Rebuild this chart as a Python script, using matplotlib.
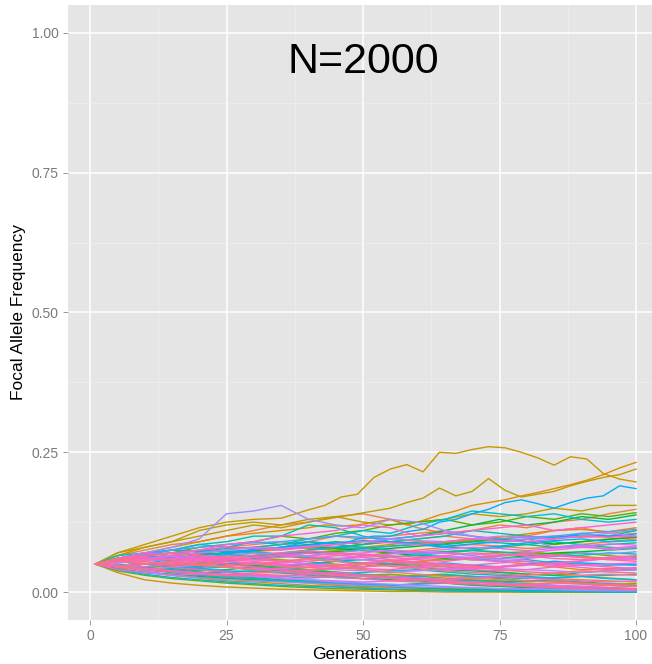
#!/usr/bin/env python3
import math

import matplotlib
matplotlib.use('Agg')
import matplotlib.pyplot as plt
import numpy as np

GENERATIONS = [1, 5, 10, 15, 20, 25, 30, 35, 40, 45, 50, 55, 60, 65, 70, 75, 80, 85, 90, 95, 100]
# the few replicates that drift far up were read more closely
FINE_GENERATIONS = [1, 5, 10, 15, 20, 25, 30, 35, 40, 43, 46, 49, 52, 55, 58, 61, 64, 67, 70,
	73, 76, 79, 82, 85, 88, 91, 94, 97, 100]
NUM_REPLICATES = 100  # colour levels in the original hue scale

# replicate id -> allele frequency at each of FINE_GENERATIONS
rep_14 = [.05, .07, .085, .10, .115, .125, .13, .132, .147, .155, .17, .175, .205, .22, .228, .215, .25,
	.248, .255, .26, .258, .25, .24, .227, .242, .238, .212, .202, .197]
rep_16 = [.05, .065, .08, .09, .10, .11, .12, .115, .125, .13, .135, .14, .145, .15, .16, .168, .186,
	.172, .18, .203, .182, .17, .175, .18, .19, .198, .205, .21, .22]
rep_9 = [.05, .06, .07, .08, .09, .10, .105, .11, .115, .12, .118, .12, .125, .13, .12, .128, .138,
	.145, .155, .16, .165, .172, .178, .185, .192, .20, .21, .222, .232]
rep_62 = [.05, .055, .05, .06, .065, .07, .075, .08, .09, .088, .085, .095, .10, .10, .108, .112, .125,
	.13, .14, .148, .16, .165, .158, .15, .16, .168, .172, .19, .185]

# replicate id -> allele frequency at each of GENERATIONS
rep_72 = [.05, .06, .07, .08, .095, .14, .145, .155, .13, .12, .115, .13, .125, .11, .10, .09, .095, .08, .085, .075, .08]
rep_17 = [.05, .07, .08, .09, .11, .12, .125, .12, .13, .135, .125, .12, .125, .13, .14, .135, .14, .15, .145, .155, .155]
rep_5 = [.05, .065, .075, .085, .09, .10, .11, .12, .125, .135, .14, .13, .115, .105, .11, .12, .115, .125, .13, .14, .148]
rep_30 = [.05, .06, .065, .07, .08, .085, .09, .10, .095, .105, .11, .12, .125, .13, .12, .125, .135, .13, .14, .135, .142]
rep_48 = [.05, .065, .07, .075, .085, .09, .10, .10, .12, .115, .10, .09, .095, .10, .11, .105, .10, .095, .105, .10, .11]
rep_88 = [.05, .06, .07, .065, .075, .085, .09, .10, .105, .11, .12, .115, .10, .105, .11, .115, .12, .11, .115, .12, .125]
rep_35 = [.05, .055, .06, .06, .065, .07, .075, .08, .085, .09, .085, .095, .10, .11, .12, .13, .12, .125, .135, .13, .138]
rep_52 = [.05, .06, .065, .075, .085, .08, .09, .085, .095, .10, .11, .105, .12, .13, .145, .14, .135, .14, .13, .125, .13]
rep_3 = [.05, .06, .055, .065, .07, .075, .08, .085, .09, .10, .095, .10, .105, .11, .10, .095, .10, .11, .115, .105, .11]
rep_1 = [.05, .045, .04, .035, .03, .028, .025, .02, .018, .015, .012, .01, .008, .006, .005, .004, .003, .002, .002, .001, .001]
rep_2 = [.05, .055, .065, .07, .075, .08, .085, .09, .085, .08, .085, .09, .095, .10, .095, .09, .095, .10, .098, .10, .105]
rep_4 = [.05, .055, .06, .065, .07, .068, .072, .076, .08, .078, .074, .07, .075, .08, .085, .082, .078, .08, .085, .09, .095]
rep_6 = [.05, .045, .042, .04, .044, .048, .046, .042, .038, .034, .03, .026, .024, .022, .025, .028, .026, .024, .022, .02, .018]
rep_7 = [.05, .055, .06, .058, .062, .065, .06, .055, .05, .048, .045, .05, .055, .06, .058, .055, .05, .045, .04, .042, .04]
rep_8 = [.05, .058, .062, .066, .07, .074, .07, .066, .07, .074, .078, .082, .086, .09, .094, .098, .104, .11, .112, .108, .115]
rep_10 = [.05, .042, .036, .03, .026, .024, .022, .02, .016, .012, .01, .008, .006, .005, .004, .003, .002, .002, .001, .001, .001]
rep_11 = [.05, .04, .035, .03, .025, .02, .018, .015, .012, .01, .008, .005, .004, .003, .002, .0015, .001, .001, 0, 0, 0]
rep_13 = [.05, .035, .022, .016, .012, .009, .007, .005, .004, .003, .002, .001, .001, 0, 0, 0, 0, 0, 0, 0, 0]
rep_19 = [.05, .055, .05, .048, .052, .056, .06, .058, .054, .05, .046, .05, .054, .058, .062, .066, .07, .068, .064, .06, .058]
rep_20 = [.05, .06, .065, .07, .068, .07, .075, .08, .078, .075, .08, .085, .09, .088, .092, .095, .09, .085, .09, .095, .098]
rep_22 = [.05, .055, .06, .065, .06, .055, .05, .045, .04, .042, .045, .05, .048, .045, .04, .036, .032, .03, .028, .025, .022]
rep_24 = [.05, .045, .05, .055, .05, .045, .04, .042, .038, .035, .03, .032, .028, .025, .022, .02, .018, .02, .015, .012, .01]
rep_26 = [.05, .046, .044, .048, .052, .05, .046, .042, .04, .036, .032, .028, .03, .032, .028, .024, .02, .018, .016, .014, .015]
rep_27 = [.05, .055, .05, .045, .05, .055, .06, .065, .06, .058, .065, .07, .068, .072, .075, .07, .072, .068, .07, .065, .062]
rep_29 = [.05, .038, .03, .024, .02, .016, .013, .01, .008, .006, .005, .004, .003, .002, .001, .001, 0, 0, 0, 0, 0]
rep_32 = [.05, .04, .035, .032, .028, .025, .022, .02, .018, .015, .013, .01, .008, .006, .005, .004, .004, .003, .003, .002, .002]
rep_33 = [.05, .054, .058, .062, .066, .07, .074, .078, .082, .078, .074, .078, .082, .086, .09, .094, .09, .086, .09, .094, .098]
rep_34 = [.05, .055, .06, .055, .05, .055, .06, .065, .07, .072, .075, .07, .065, .06, .058, .06, .065, .07, .072, .075, .078]
rep_37 = [.05, .044, .04, .036, .034, .036, .038, .036, .032, .028, .024, .022, .02, .016, .012, .01, .008, .006, .005, .004, .003]
rep_38 = [.05, .055, .06, .058, .055, .05, .048, .045, .05, .055, .052, .05, .045, .04, .038, .035, .032, .03, .035, .038, .04]
rep_39 = [.05, .045, .042, .04, .036, .03, .026, .022, .02, .016, .012, .01, .008, .006, .005, .004, .003, .002, .001, .001, 0]
rep_41 = [.05, .045, .04, .042, .038, .04, .045, .042, .04, .035, .03, .028, .025, .022, .02, .018, .02, .022, .018, .015, .012]
rep_43 = [.05, .06, .062, .065, .07, .068, .065, .07, .075, .08, .085, .09, .088, .085, .09, .088, .085, .08, .082, .085, .088]
rep_44 = [.05, .06, .07, .075, .072, .078, .08, .085, .09, .085, .08, .075, .07, .072, .075, .08, .085, .09, .085, .08, .078]
rep_46 = [.05, .045, .04, .038, .035, .03, .028, .025, .02, .018, .015, .012, .015, .018, .02, .018, .015, .012, .01, .008, .006]
rep_47 = [.05, .056, .06, .058, .062, .066, .064, .068, .072, .07, .066, .062, .066, .07, .074, .072, .068, .064, .066, .07, .068]
rep_50 = [.05, .055, .06, .062, .058, .055, .06, .065, .062, .06, .058, .062, .066, .064, .06, .055, .058, .052, .05, .048, .05]
rep_53 = [.05, .045, .04, .035, .03, .026, .024, .02, .018, .016, .014, .012, .014, .016, .014, .012, .01, .008, .006, .004, .003]
rep_55 = [.05, .05, .045, .04, .042, .045, .04, .038, .035, .032, .035, .038, .04, .036, .032, .03, .028, .025, .028, .03, .032]
rep_57 = [.05, .046, .05, .046, .042, .038, .036, .034, .03, .026, .024, .026, .028, .03, .028, .026, .024, .026, .028, .024, .022]
rep_58 = [.05, .04, .032, .026, .022, .018, .015, .012, .01, .009, .007, .005, .004, .003, .002, .002, .001, .001, .001, 0, 0]
rep_60 = [.05, .06, .065, .06, .065, .07, .072, .068, .075, .08, .078, .082, .085, .08, .078, .082, .088, .092, .095, .09, .092]
rep_63 = [.05, .06, .066, .07, .074, .072, .076, .08, .084, .088, .092, .09, .086, .082, .086, .09, .094, .098, .102, .10, .104]
rep_64 = [.05, .045, .05, .048, .045, .05, .052, .048, .05, .055, .058, .055, .05, .052, .048, .045, .05, .055, .052, .05, .048]
rep_66 = [.05, .055, .05, .045, .04, .035, .03, .028, .025, .028, .03, .025, .022, .02, .018, .015, .012, .01, .008, .006, .005]
rep_67 = [.05, .06, .068, .075, .08, .085, .088, .09, .095, .10, .098, .095, .10, .105, .10, .095, .098, .10, .105, .108, .112]
rep_69 = [.05, .06, .058, .055, .06, .065, .07, .068, .065, .07, .075, .072, .068, .07, .065, .06, .062, .065, .07, .068, .072]
rep_71 = [.05, .045, .038, .03, .026, .022, .02, .018, .016, .014, .012, .01, .009, .008, .007, .006, .005, .004, .003, .002, .002]
rep_73 = [.05, .046, .042, .038, .034, .03, .028, .024, .022, .018, .016, .014, .012, .01, .008, .006, .006, .005, .004, .004, .003]
rep_74 = [.05, .045, .04, .045, .048, .045, .04, .042, .045, .04, .038, .035, .038, .04, .045, .042, .04, .038, .035, .038, .04]
rep_76 = [.05, .055, .06, .065, .07, .075, .08, .078, .082, .085, .09, .095, .092, .09, .095, .10, .098, .095, .10, .105, .10]
rep_78 = [.05, .052, .056, .06, .065, .062, .058, .055, .05, .048, .052, .056, .06, .064, .062, .058, .054, .05, .055, .06, .058]
rep_79 = [.05, .04, .035, .03, .032, .03, .028, .025, .022, .02, .018, .02, .022, .02, .018, .016, .014, .012, .01, .012, .01]
rep_80 = [.05, .056, .06, .064, .06, .058, .062, .066, .064, .06, .064, .068, .072, .076, .08, .078, .074, .078, .082, .086, .084]
rep_81 = [.05, .055, .058, .06, .058, .055, .05, .052, .055, .06, .058, .055, .06, .062, .058, .055, .06, .065, .062, .058, .06]
rep_83 = [.05, .045, .05, .052, .048, .045, .042, .04, .038, .042, .045, .048, .045, .042, .04, .038, .04, .045, .048, .05, .052]
rep_85 = [.05, .06, .065, .07, .065, .06, .058, .062, .065, .068, .07, .075, .072, .07, .068, .065, .07, .075, .08, .078, .082]
rep_86 = [.05, .046, .05, .054, .058, .055, .052, .048, .044, .046, .05, .054, .05, .046, .042, .046, .05, .048, .044, .04, .044]
rep_87 = [.05, .045, .04, .038, .035, .032, .03, .028, .032, .035, .03, .028, .025, .022, .025, .028, .025, .022, .02, .018, .02]
rep_89 = [.05, .06, .065, .07, .075, .08, .078, .075, .08, .085, .09, .088, .085, .09, .095, .092, .09, .095, .10, .098, .10]
rep_90 = [.05, .055, .05, .055, .06, .058, .055, .05, .048, .045, .042, .04, .045, .05, .048, .052, .055, .05, .048, .045, .042]
rep_91 = [.05, .056, .062, .058, .054, .058, .062, .066, .07, .066, .062, .058, .054, .05, .046, .044, .048, .052, .056, .06, .064]
rep_92 = [.05, .048, .045, .05, .055, .05, .045, .04, .035, .032, .028, .025, .022, .02, .018, .015, .012, .01, .009, .008, .006]
rep_94 = [.05, .055, .06, .058, .062, .06, .058, .055, .06, .065, .068, .065, .062, .065, .07, .068, .065, .06, .058, .062, .065]
rep_95 = [.05, .058, .064, .07, .066, .062, .066, .07, .074, .07, .066, .062, .058, .055, .06, .064, .068, .066, .062, .058, .055]
rep_96 = [.05, .045, .04, .036, .032, .03, .034, .036, .032, .03, .028, .025, .022, .018, .015, .012, .01, .008, .006, .005, .004]
rep_97 = [.05, .045, .04, .044, .04, .036, .032, .03, .028, .026, .024, .02, .018, .016, .014, .012, .014, .016, .014, .012, .01]
rep_98 = [.05, .055, .052, .048, .05, .054, .05, .046, .044, .048, .052, .056, .052, .048, .044, .04, .036, .034, .03, .032, .03]
rep_99 = [.05, .045, .05, .054, .05, .046, .05, .054, .058, .055, .05, .046, .042, .038, .035, .032, .03, .034, .038, .036, .034]
rep_100 = [.05, .06, .055, .05, .048, .044, .04, .036, .04, .044, .04, .036, .032, .028, .025, .022, .02, .018, .016, .014, .012]

FINE_REPLICATES = {9: rep_9, 14: rep_14, 16: rep_16, 62: rep_62}
REPLICATES = {
	1: rep_1, 2: rep_2, 3: rep_3, 4: rep_4, 5: rep_5, 6: rep_6, 7: rep_7, 8: rep_8, 10: rep_10,
	11: rep_11, 13: rep_13, 17: rep_17, 19: rep_19, 20: rep_20, 22: rep_22, 24: rep_24,
	26: rep_26, 27: rep_27, 29: rep_29, 30: rep_30, 32: rep_32, 33: rep_33, 34: rep_34,
	35: rep_35, 37: rep_37, 38: rep_38, 39: rep_39, 41: rep_41, 43: rep_43, 44: rep_44,
	46: rep_46, 47: rep_47, 48: rep_48, 50: rep_50, 52: rep_52, 53: rep_53, 55: rep_55,
	57: rep_57, 58: rep_58, 60: rep_60, 63: rep_63, 64: rep_64, 66: rep_66, 67: rep_67,
	69: rep_69, 71: rep_71, 72: rep_72, 73: rep_73, 74: rep_74, 76: rep_76, 78: rep_78,
	79: rep_79, 80: rep_80, 81: rep_81, 83: rep_83, 85: rep_85, 86: rep_86, 87: rep_87,
	88: rep_88, 89: rep_89, 90: rep_90, 91: rep_91, 92: rep_92, 94: rep_94, 95: rep_95,
	96: rep_96, 97: rep_97, 98: rep_98, 99: rep_99, 100: rep_100,
}

X_TICKS = [0, 25, 50, 75, 100]
Y_TICKS = [0.0, 0.25, 0.5, 0.75, 1.0]
Y_TICK_LABELS = ['0.00', '0.25', '0.50', '0.75', '1.00']


def hcl_to_hex(h, c=100, l=65):
	""" polar Luv -> sRGB, like R's hcl() used by ggplot's hue palette """
	xn, yn, zn = 95.047, 100.0, 108.883
	un = 4 * xn / (xn + 15 * yn + 3 * zn)
	vn = 9 * yn / (xn + 15 * yn + 3 * zn)
	u = c * math.cos(math.radians(h))
	v = c * math.sin(math.radians(h))
	y = yn * ((l + 16) / 116) ** 3
	up = u / (13 * l) + un
	vp = v / (13 * l) + vn
	x = y * 9 * up / (4 * vp)
	z = y * (12 - 3 * up - 20 * vp) / (4 * vp)
	x, y, z = x / 100, y / 100, z / 100
	r = 3.2404542 * x - 1.5371385 * y - 0.4985314 * z
	g = -0.9692660 * x + 1.8760108 * y + 0.0415560 * z
	b = 0.0556434 * x - 0.2040259 * y + 1.0572252 * z

	def gam(t):
		t = 12.92 * t if t <= 0.0031308 else 1.055 * t ** (1 / 2.4) - 0.055
		return min(max(t, 0.0), 1.0)
	return '#%02x%02x%02x' % tuple(int(round(gam(t) * 255)) for t in (r, g, b))


def hue_pal(n):
	hues = np.linspace(15, 375, n + 1)[:n]
	return [hcl_to_hex(h % 360) for h in hues]


def draw(out_path):
	fig = plt.figure(figsize=(6.52, 6.64), dpi=100)
	ax = fig.add_axes([68 / 652, 44 / 664, 584 / 652, 615 / 664])
	ax.set_facecolor('#e5e5e5')

	colours = hue_pal(NUM_REPLICATES)
	# ggplot draws the groups in level order, so the pinks end up on top
	series = [(rid, GENERATIONS, vals) for rid, vals in REPLICATES.items()]
	series += [(rid, FINE_GENERATIONS, vals) for rid, vals in FINE_REPLICATES.items()]
	for rid, gens, vals in sorted(series, key=lambda s: s[0]):
		ax.plot(gens, vals, color=colours[rid - 1], lw=1.0, zorder=3)

	ax.set_xlim(-4.03, 102.93)
	ax.set_ylim(-0.05, 1.05)
	ax.set_xticks(X_TICKS)
	ax.set_xticks([12.5, 37.5, 62.5, 87.5], minor=True)
	ax.set_yticks(Y_TICKS)
	ax.set_yticklabels(Y_TICK_LABELS)
	ax.set_yticks([0.125, 0.375, 0.625, 0.875], minor=True)
	ax.grid(which='major', color='white', lw=1.1, zorder=0)
	ax.grid(which='minor', color='#f0f0f0', lw=0.5, zorder=0)
	ax.set_axisbelow(True)
	for s in ax.spines.values():
		s.set_visible(False)
	ax.tick_params(which='major', length=3.5, width=0.6, color='#8a8a8a', labelcolor='#7a7a7a',
		labelsize=10, pad=3)
	ax.tick_params(which='minor', length=0)
	for lab in ax.get_xticklabels() + ax.get_yticklabels():
		lab.set_family('Liberation Sans')

	ax.set_xlabel('Generations', fontsize=12.5, family='Liberation Sans', labelpad=3)
	ax.set_ylabel('Focal Allele Frequency', fontsize=12.5, family='Liberation Sans', labelpad=4)
	ax.text(50, 0.948, 'N=2000', fontsize=31, family='Liberation Sans', ha='center', va='center')

	fig.savefig(out_path, dpi=100)


if __name__ == '__main__':
	draw('out.png')
